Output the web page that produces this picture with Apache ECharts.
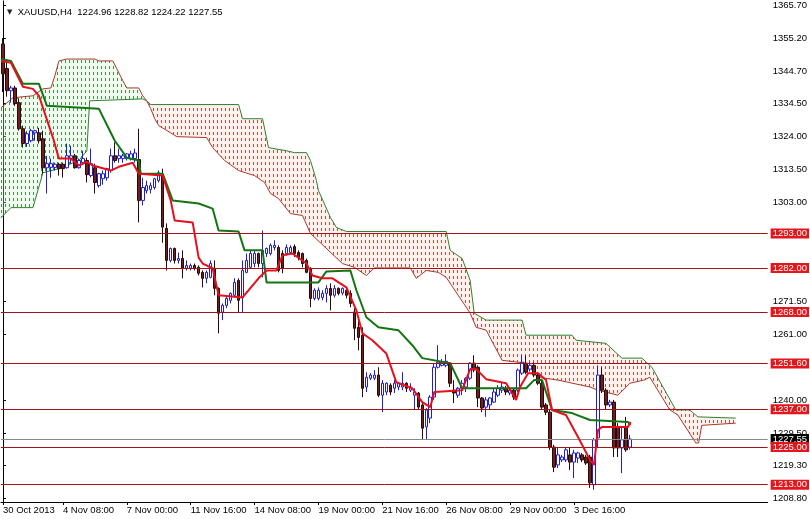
<!DOCTYPE html>
<html><head><meta charset="utf-8">
<script src="https://cdn.jsdelivr.net/npm/echarts@6/dist/echarts.min.js"></script>
<style>html,body{margin:0;padding:0;background:#fff}#c{width:810px;height:519px}</style>
</head><body><div id="c"></div><script>
// ---- data ----
// [open, close, low, high] per H4 bar, starting 30 Oct 2013 20:00
const ohlc = [
[1353.3,1343.8,1338.0,1355.2],[1345.5,1338.4,1336.5,1347.5],[1338.4,1339.3,1334.6,1340.0],[1339.3,1334.3,1333.6,1340.0],
[1334.6,1326.3,1325.7,1336.0],[1326.3,1321.6,1320.3,1327.3],[1321.6,1324.7,1320.5,1325.5],[1322.5,1325.7,1322.0,1326.3],
[1325.0,1325.7,1322.5,1326.0],[1325.0,1322.5,1321.6,1326.6],[1323.1,1313.9,1312.0,1325.7],[1313.9,1315.2,1305.7,1317.7],
[1314.0,1315.2,1310.7,1316.8],[1314.0,1315.0,1313.0,1315.5],[1315.0,1313.6,1311.4,1315.5],[1315.0,1313.6,1310.8,1315.5],
[1313.9,1317.7,1313.6,1321.6],[1316.8,1317.7,1315.2,1320.9],[1317.7,1313.9,1313.6,1318.3],[1313.9,1316.2,1313.6,1316.8],
[1315.6,1316.8,1315.2,1319.3],[1316.2,1311.7,1309.2,1317.1],[1311.4,1315.2,1310.8,1320.0],[1313.9,1309.2,1305.7,1315.2],
[1308.2,1312.0,1307.6,1312.3],[1310.4,1312.0,1308.5,1313.0],[1310.7,1313.6,1309.8,1313.9],[1313.0,1317.7,1312.3,1320.0],
[1317.7,1316.2,1315.5,1322.0],[1316.8,1317.7,1315.5,1320.0],[1316.8,1317.7,1315.5,1318.3],[1316.8,1318.3,1316.2,1318.6],
[1316.8,1318.3,1316.2,1319.3],[1316.8,1318.6,1315.5,1320.0],[1316.5,1303.5,1296.5,1326.3],[1303.5,1307.6,1301.9,1310.7],
[1306.6,1308.2,1305.7,1309.8],[1307.0,1308.2,1305.7,1309.2],[1307.6,1310.4,1307.0,1310.7],[1309.8,1312.3,1309.2,1313.0],
[1311.4,1295.0,1290.0,1313.6],[1294.6,1284.4,1281.2,1296.2],[1284.4,1288.2,1283.8,1288.5],[1288.2,1284.4,1283.4,1288.5],
[1284.4,1285.0,1283.4,1286.9],[1285.0,1281.9,1278.7,1287.6],[1281.9,1282.8,1281.2,1284.4],[1281.9,1282.8,1281.2,1283.4],
[1282.8,1281.9,1281.2,1283.4],[1282.2,1280.3,1279.6,1282.8],[1280.6,1278.7,1275.8,1281.2],[1278.7,1280.6,1277.1,1281.2],
[1279.0,1283.4,1278.7,1284.4],[1281.9,1275.5,1273.3,1284.4],[1275.5,1267.6,1261.2,1275.8],[1267.9,1270.1,1265.4,1270.7],
[1270.1,1272.3,1269.2,1273.3],[1271.7,1273.9,1270.7,1274.2],[1273.3,1277.4,1272.6,1278.7],[1278.0,1271.7,1267.9,1278.7],
[1272.6,1281.2,1267.9,1284.4],[1280.6,1284.4,1280.3,1286.6],[1282.2,1286.6,1281.9,1287.6],[1283.4,1286.6,1282.2,1287.6],
[1286.6,1283.4,1282.2,1286.9],[1283.4,1287.6,1279.0,1293.9],[1286.6,1288.2,1285.5,1288.5],[1286.6,1289.2,1286.0,1289.8],
[1288.5,1289.2,1287.6,1290.8],[1288.5,1281.2,1280.6,1289.2],[1286.6,1281.9,1280.3,1287.6],[1286.6,1288.5,1286.0,1289.5],
[1286.9,1288.5,1286.6,1289.2],[1288.8,1286.6,1285.5,1289.5],[1286.9,1285.3,1284.4,1287.6],[1286.6,1283.4,1282.2,1286.9],
[1284.4,1280.6,1280.3,1285.0],[1281.9,1272.3,1269.5,1282.2],[1272.3,1274.9,1271.7,1275.5],[1272.3,1274.9,1271.7,1275.8],
[1272.6,1273.9,1271.7,1274.9],[1273.9,1275.5,1271.0,1276.5],[1275.5,1273.3,1268.5,1277.1],[1273.3,1275.5,1272.6,1276.5],
[1275.5,1273.9,1273.3,1275.8],[1274.0,1275.5,1273.3,1275.8],[1274.9,1273.3,1272.3,1275.8],[1273.9,1270.7,1269.5,1274.9],
[1268.0,1262.8,1259.0,1269.2],[1263.1,1259.9,1255.8,1265.4],[1260.6,1243.7,1240.9,1263.1],[1244.1,1247.2,1242.5,1248.8],
[1246.9,1247.9,1246.3,1248.5],[1246.9,1247.9,1246.3,1249.5],[1247.9,1241.5,1240.9,1250.4],[1241.5,1245.3,1236.1,1246.3],
[1242.5,1245.3,1241.5,1245.6],[1244.7,1242.5,1241.5,1245.3],[1243.7,1245.3,1242.2,1246.3],[1244.1,1245.3,1243.1,1245.6],
[1244.1,1245.3,1243.1,1248.8],[1245.3,1243.7,1242.5,1245.6],[1243.1,1244.1,1242.5,1245.3],[1241.5,1242.5,1236.8,1243.7],
[1242.2,1237.7,1236.8,1242.5],[1238.4,1231.0,1227.3,1239.3],[1231.4,1236.8,1227.3,1237.4],[1234.2,1240.9,1232.6,1241.5],
[1240.9,1250.4,1240.0,1251.7],[1250.4,1252.0,1250.0,1257.4],[1251.0,1252.0,1250.7,1253.0],[1251.0,1252.3,1250.4,1254.5],
[1251.7,1245.3,1244.1,1252.0],[1243.1,1242.2,1239.0,1246.3],[1241.5,1243.7,1240.6,1244.1],[1243.7,1245.3,1241.5,1246.3],
[1244.1,1246.9,1242.5,1247.2],[1246.9,1251.7,1246.3,1252.0],[1251.7,1249.5,1248.8,1254.2],[1250.4,1240.6,1237.7,1251.0],
[1240.6,1237.4,1236.1,1240.9],[1237.7,1240.0,1234.6,1240.9],[1238.4,1240.6,1236.8,1240.9],[1239.3,1242.5,1239.0,1243.7],
[1241.5,1243.7,1240.9,1244.7],[1243.1,1244.1,1242.2,1245.6],[1243.7,1242.5,1241.5,1244.4],[1242.2,1243.1,1241.5,1244.1],
[1243.1,1240.9,1240.0,1243.7],[1243.1,1249.5,1242.5,1250.0],[1248.5,1252.0,1247.9,1254.2],[1251.7,1248.8,1248.2,1254.2],
[1249.8,1251.0,1249.0,1252.0],[1251.0,1247.9,1247.2,1252.0],[1247.9,1245.3,1244.7,1248.5],[1245.3,1237.7,1236.8,1246.3],
[1238.4,1236.1,1235.2,1239.0],[1236.1,1225.0,1224.1,1236.8],[1225.0,1218.6,1217.0,1225.7],[1219.3,1222.5,1218.3,1225.0],
[1220.9,1221.8,1220.2,1222.5],[1220.9,1224.1,1220.2,1224.7],[1222.5,1220.2,1217.7,1224.7],[1220.2,1223.1,1215.1,1224.1],
[1221.5,1223.1,1219.9,1223.5],[1222.5,1220.9,1220.2,1223.1],[1221.8,1219.9,1219.3,1222.5],[1221.8,1213.6,1212.0,1222.5],
[1213.0,1227.3,1211.4,1227.9],[1227.9,1247.9,1225.0,1251.0],[1247.9,1243.1,1242.2,1250.4],[1243.1,1238.4,1236.8,1243.7],
[1238.4,1239.3,1237.7,1240.0],[1239.3,1224.7,1221.8,1240.0],[1231.4,1224.7,1221.8,1232.6],[1224.7,1227.3,1216.7,1231.4],
[1231.4,1224.1,1223.5,1234.6],[1224.96,1227.55,1224.22,1228.82]
];
// Ichimoku lines read as [bar index, price] break points
const tenkan = [[-0.5,1347.9],[2,1347.3],[5,1339.7],[7.5,1339.0],[9,1336.8],[12.5,1323.5],[14,1316.8],[17,1316.8],[19,1314.6],[21,1315.8],[22.5,1314.6],[27,1313.0],[29,1314.2],[32.5,1315.5],[34,1312.0],[40,1311.4],[42,1303.5],[43,1297.1],[47.5,1296.5],[49,1285.3],[50,1283.4],[52.5,1281.9],[54,1273.3],[60,1272.6],[64,1278.7],[66,1281.2],[68.5,1281.2],[70,1286.0],[72.5,1286.6],[76,1283.4],[77.5,1279.6],[80,1278.7],[82.5,1278.7],[86,1275.8],[88.5,1268.5],[90,1261.2],[92.5,1259.0],[96,1254.8],[98.5,1245.6],[102.5,1243.7],[105,1239.3],[107,1237.7],[108,1242.5],[115,1243.1],[117,1249.8],[118.5,1249.8],[121,1246.6],[126,1245.3],[128.5,1240.0],[129.5,1244.1],[131.5,1248.5],[134,1248.5],[136,1246.3],[137.5,1236.8],[141,1235.2],[144,1228.2],[147,1220.9],[148,1219.3],[149,1230.4],[150,1231.4],[156.5,1231.4],[157.2,1233.0]];
const kijun = [[-0.5,1348.5],[2,1347.9],[5,1340.6],[9,1340.6],[11,1333.6],[24,1332.7],[28,1322.5],[31,1317.1],[34,1316.2],[34.5,1312.0],[40,1312.0],[42.5,1303.5],[49,1302.5],[52.5,1300.9],[54,1293.9],[59,1293.6],[60.5,1287.6],[65,1287.6],[66,1277.4],[79,1277.4],[81,1280.9],[87,1281.2],[88.5,1274.9],[91,1266.3],[94,1263.1],[99,1262.2],[102.5,1257.4],[105,1253.3],[112,1251.7],[115,1243.7],[131,1243.7],[133,1246.3],[135,1246.3],[137.5,1236.8],[142.5,1235.8],[147,1233.6],[156.5,1233.0],[157.2,1232.0]];
const spanA = [[-0.5,1298.0],[2,1301.2],[7.5,1301.2],[10,1312.3],[14,1313.6],[19,1316.2],[21,1319.3],[21.7,1335.2],[22,1335.8],[35,1335.8],[36,1335.2],[37,1334.0],[59,1334.0],[60,1329.5],[65,1329.5],[66.5,1320.3],[71,1319.3],[73,1318.7],[76,1318.7],[77,1316.2],[78.5,1309.8],[79,1306.6],[82,1298.1],[83.5,1294.9],[86,1293.6],[111,1293.6],[112,1287.6],[115,1285.0],[117,1278.0],[118,1267.6],[121,1265.4],[130,1265.4],[131,1260.6],[142.5,1260.6],[143.5,1259.0],[151,1258.0],[155,1253.3],[160,1253.3],[162.5,1250.4],[168.5,1236.8],[172,1236.8],[174,1234.6],[183.5,1234.2]];
const spanB = [[-0.5,1333.0],[2.5,1336.2],[7.5,1336.8],[10,1339.0],[12,1339.3],[13,1343.2],[14,1347.9],[16,1348.5],[23,1348.5],[24,1347.9],[27.5,1347.9],[28.5,1345.4],[30,1341.6],[31,1339.3],[34,1339.3],[35,1336.8],[36,1335.2],[37,1332.7],[38,1329.5],[39,1327.3],[42,1325.0],[43.5,1323.8],[51,1323.5],[52.5,1320.3],[55.5,1316.2],[59,1313.0],[63,1311.4],[65.5,1309.2],[67,1305.7],[69,1304.1],[72,1299.3],[75,1298.7],[77,1293.0],[85,1283.4],[88,1282.2],[91,1279.6],[93,1282.0],[102,1282.0],[103.5,1278.7],[106,1281.2],[109,1280.6],[111,1279.0],[114,1273.3],[117,1267.6],[118.5,1263.1],[121,1262.2],[125,1252.6],[131,1251.7],[134,1247.2],[139,1246.3],[147,1244.1],[149,1243.1],[154,1241.5],[157,1245.3],[160.5,1246.3],[162,1247.2],[167,1236.8],[169,1235.2],[173.5,1226.3],[174.2,1226.3],[175,1231.9],[183.5,1232.6]];
const cloudTwist = 36; // bar where the two spans cross
const levels = [1293.00, 1282.00, 1268.00, 1251.60, 1237.00, 1225.00, 1213.00];
const lastPrice = 1227.55;
const priceTicks = [1365.70, 1355.20, 1344.70, 1334.50, 1324.00, 1313.50, 1303.00, 1271.50, 1261.00, 1240.00, 1229.50, 1219.30, 1208.80];
const timeLabels = [[0,'30 Oct 2013'],[15,'4 Nov 08:00'],[31,'7 Nov 00:00'],[47,'11 Nov 16:00'],[63,'14 Nov 08:00'],[79,'19 Nov 00:00'],[95,'21 Nov 16:00'],[111,'26 Nov 08:00'],[127,'29 Nov 00:00'],[143,'3 Dec 16:00']];
const headerText = 'XAUUSD,H4  1224.96 1228.82 1224.22 1227.55';
const N_BARS = 192; // visible slots incl. cloud shifted forward

// ---- categories: H4 slots, Mon-Fri ----
const MON = ['Jan','Feb','Mar','Apr','May','Jun','Jul','Aug','Sep','Oct','Nov','Dec'];
const categories = [];
for (let t = Date.UTC(2013, 9, 30, 20); categories.length < N_BARS; t += 4 * 3600e3) {
  const d = new Date(t), wd = d.getUTCDay();
  if (wd === 0 || wd === 6) continue;
  categories.push(d.getUTCDate() + ' ' + MON[d.getUTCMonth()] + ' ' + String(d.getUTCHours()).padStart(2, '0') + ':00');
}
const labelMap = {};
timeLabels.forEach(([i, s]) => labelMap[i] = s);
const showLabel = (idx) => labelMap[idx] !== undefined;

function hatch(color) {
  const c = document.createElement('canvas'); c.width = 4; c.height = 6;
  const g = c.getContext('2d'); g.fillStyle = color; g.fillRect(1, 0, 1, 3);
  return c;
}
const hatchGreen = hatch('#3f9a3f');
const hatchRed = hatch('#d8463a');

const FONT = 'Liberation Sans, Arial, sans-serif';
const lbl = (text, bg) => ({ show: true, position: 'end', distance: 3, formatter: text, color: '#fff',
  backgroundColor: bg, padding: [0, 2, 0, 2], lineHeight: 10, fontSize: 9.5, fontFamily: FONT });
const chart = echarts.init(document.getElementById('c'));
chart.setOption({
  animation: false,
  backgroundColor: '#ffffff',
  title: {
    text: '{t|▼}  ' + headerText, left: 2, top: 2,
    textStyle: { fontSize: 9.5, fontWeight: 'normal', color: '#000', fontFamily: FONT,
      rich: { t: { fontSize: 7, color: '#222', fontFamily: 'DejaVu Sans' } } }
  },
  grid: { left: 1, right: 40, top: 0, bottom: 17 },
  xAxis: [{
    type: 'category', data: categories, boundaryGap: true,
    axisLine: { show: true, lineStyle: { color: '#000', width: 1 } },
    axisTick: { show: true, alignWithLabel: true, interval: showLabel, length: 3, lineStyle: { color: '#000' } },
    axisLabel: { interval: showLabel, formatter: (v, i) => labelMap[i] || '', align: 'left', margin: 3,
      fontSize: 9.5, color: '#000', fontFamily: FONT },
    splitLine: { show: false }
  }, {
    type: 'value', min: -0.5, max: N_BARS - 0.5, show: false
  }],
  yAxis: {
    type: 'value', position: 'right', min: 1207.5, max: 1367.0, scale: true,
    axisLine: { show: true, lineStyle: { color: '#000', width: 1 } },
    axisTick: { show: true, customValues: priceTicks, length: 3, lineStyle: { color: '#000' } },
    axisLabel: { customValues: priceTicks, formatter: v => v.toFixed(2), margin: 5, fontSize: 9.5, color: '#000', fontFamily: FONT },
    splitLine: { show: false }
  },
  series: [
    {
      type: 'custom', xAxisIndex: 1, yAxisIndex: 0, z: 1, clip: true, silent: true,
      data: [[0, 1300]],
      renderItem: function (params, api) {
        const pts = (up, lo) => up.map(p => api.coord(p)).concat(lo.slice().reverse().map(p => api.coord(p)));
        const leftPoly = pts(spanB.filter(p => p[0] <= cloudTwist), spanA.filter(p => p[0] <= cloudTwist));
        const rightPoly = pts(spanA.filter(p => p[0] >= cloudTwist), spanB.filter(p => p[0] >= cloudTwist));
        return { type: 'group', children: [
          { type: 'polygon', shape: { points: leftPoly }, style: { fill: 'rgba(215,240,215,0.35)' } },
          { type: 'polygon', shape: { points: leftPoly }, style: { fill: { image: hatchGreen, repeat: 'repeat' } } },
          { type: 'polygon', shape: { points: rightPoly }, style: { fill: 'rgba(255,225,215,0.4)' } },
          { type: 'polygon', shape: { points: rightPoly }, style: { fill: { image: hatchRed, repeat: 'repeat' } } }
        ] };
      }
    },
    {
      type: 'line', xAxisIndex: 1, data: spanA, showSymbol: false, z: 2, silent: true,
      lineStyle: { color: '#2f7f2f', width: 1 }
    },
    {
      type: 'line', xAxisIndex: 1, data: spanB, showSymbol: false, z: 2, silent: true,
      lineStyle: { color: '#a8382c', width: 1 }
    },
    {
      type: 'candlestick', xAxisIndex: 0, data: ohlc, barWidth: 3, z: 3,
      itemStyle: { color: '#ffffff', color0: '#6e1f1f', borderColor: '#1f1fd0', borderColor0: '#2a0808', borderWidth: 1 },
      markLine: {
        silent: true, symbol: ['none', 'none'], animation: false,
        data: [{
          yAxis: lastPrice,
          lineStyle: { color: '#8a8a8a', width: 1, type: 'solid' },
          label: lbl(lastPrice.toFixed(2), '#000')
        }].concat(levels.map(v => ({
          yAxis: v,
          lineStyle: { color: '#a3111b', width: 1, type: 'solid' },
          label: lbl(v.toFixed(2), '#e3161c')
        })))
      }
    },
    {
      type: 'line', xAxisIndex: 1, data: kijun, showSymbol: false, z: 4, silent: true,
      lineStyle: { color: '#127512', width: 2 }
    },
    {
      type: 'line', xAxisIndex: 1, data: tenkan, showSymbol: false, z: 5, silent: true,
      lineStyle: { color: '#e5101c', width: 2 }
    }
  ]
});
</script></body></html>
